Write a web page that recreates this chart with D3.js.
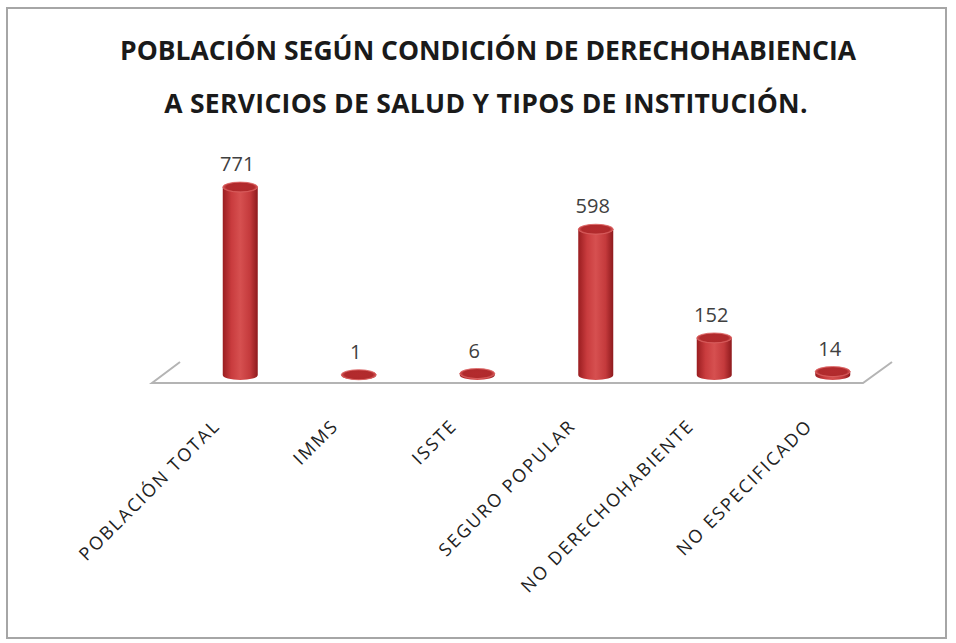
<!DOCTYPE html>
<html>
<head>
<meta charset="utf-8">
<script src="https://cdn.jsdelivr.net/npm/d3@7"></script>
<style>
  html, body { margin: 0; padding: 0; background: #fff; }
  svg { display: block; }
  .title { font-family: "Open Sans", sans-serif; font-weight: 700; fill: #1a1a1a; }
  .val { font-family: "Open Sans", sans-serif; fill: #404040; }
  .cat { font-family: "Open Sans", sans-serif; fill: #222; }
</style>
</head>
<body>
<svg id="chart"></svg>
<script>
// ── Data ──
const categories = ["POBLACIÓN TOTAL", "IMMS", "ISSTE", "SEGURO POPULAR", "NO DERECHOHABIENTE", "NO ESPECIFICADO"];
const values = [771, 1, 6, 598, 152, 14];
const titleLines = [
  "POBLACIÓN SEGÚN CONDICIÓN DE DERECHOHABIENCIA",
  "A SERVICIOS DE SALUD Y TIPOS DE INSTITUCIÓN."
];

// ── Dimensions ──
const W = 956, H = 643;
const svg = d3.select("#chart").attr("width", W).attr("height", H);

// frame
svg.append("rect")
  .attr("x", 7).attr("y", 8)
  .attr("width", 939).attr("height", 630)
  .attr("fill", "#fff")
  .attr("stroke", "#a6a6a6")
  .attr("stroke-width", 2);

// ── Title ──
svg.selectAll(".title")
  .data(titleLines)
  .join("text")
  .attr("class", "title")
  .attr("x", (d, i) => i ? 486 : 488)
  .attr("y", (d, i) => 60 + i * 53)
  .attr("text-anchor", "middle")
  .attr("font-size", 26.5)
  .attr("letter-spacing", (d, i) => i ? 0.3 : 0)
  .text(d => d);

// ── Scales ──
const x = d3.scaleBand()
  .domain(categories)
  .range([181, 892]);

const y = d3.scaleLinear()
  .domain([0, 800])
  .range([375, 180]);

// ── Floor (3D plane edge) ──
svg.append("path")
  .attr("d", d3.line()([[180, 362], [152, 383], [863, 383], [892, 362]]))
  .attr("fill", "none")
  .attr("stroke", "#b4b4b4")
  .attr("stroke-width", 2);

// ── Gradients ──
const defs = svg.append("defs");
const bodyGrad = defs.append("linearGradient").attr("id", "body")
  .attr("x1", 0).attr("x2", 1).attr("y1", 0).attr("y2", 0);
[[0, "#9a1d20"], [0.25, "#c93c3e"], [0.5, "#d65050"], [0.78, "#c43a3c"], [1, "#8e1a1d"]]
  .forEach(([o, c]) => bodyGrad.append("stop").attr("offset", o).attr("stop-color", c));

const topGrad = defs.append("radialGradient").attr("id", "top");
[[0, "#b42b2e"], [0.8, "#b02a2c"], [1, "#d85a5a"]]
  .forEach(([o, c]) => topGrad.append("stop").attr("offset", o).attr("stop-color", c));

// ── Bars as cylinders ──
const rx = 17.5, ry = 5;
const bars = svg.selectAll(".bar")
  .data(categories.map((c, i) => ({ cat: c, v: values[i] })))
  .join("g")
  .attr("class", "bar");

bars.append("path")
  .attr("d", d => {
    const cx = x(d.cat) + x.bandwidth() / 2;
    const yb = y(0), yt = y(d.v);
    return `M${cx - rx},${yt} L${cx - rx},${yb} A${rx},${ry} 0 0 0 ${cx + rx},${yb} L${cx + rx},${yt} Z`;
  })
  .attr("fill", "url(#body)");

bars.append("ellipse")
  .attr("cx", d => x(d.cat) + x.bandwidth() / 2)
  .attr("cy", d => y(d.v))
  .attr("rx", rx)
  .attr("ry", ry)
  .attr("fill", "url(#top)")
  .attr("stroke", "#d86060")
  .attr("stroke-width", 0.8);

// value labels
bars.append("text")
  .attr("class", "val")
  .attr("x", d => x(d.cat) + x.bandwidth() / 2 - 3)
  .attr("y", d => y(d.v) - 16)
  .attr("text-anchor", "middle")
  .attr("font-size", 20)
  .text(d => d.v);

// ── Category labels ──
svg.selectAll(".cat")
  .data(categories)
  .join("text")
  .attr("class", "cat")
  .attr("text-anchor", "end")
  .attr("font-size", 18)
  .attr("letter-spacing", 2)
  .attr("transform", d => {
    const cx = x(d) + x.bandwidth() / 2;
    return `translate(${cx - 19},${427}) rotate(-45)`;
  })
  .text(d => d);
</script>
</body>
</html>
